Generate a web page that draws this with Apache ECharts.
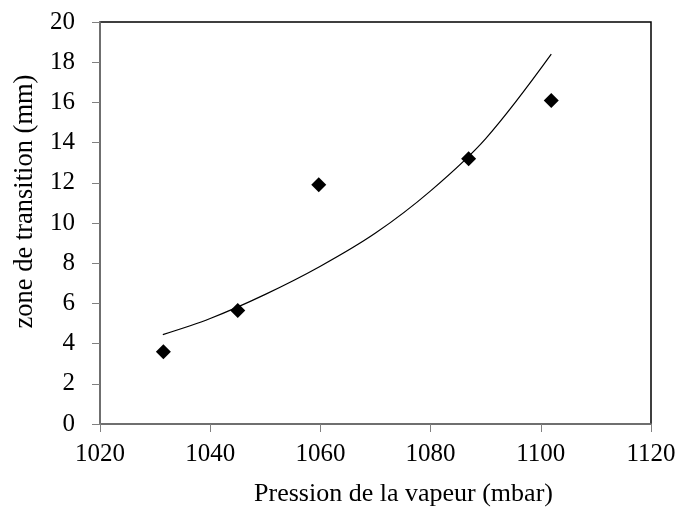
<!DOCTYPE html>
<html>
<head>
<meta charset="utf-8">
<script src="https://cdn.jsdelivr.net/npm/echarts@6/dist/echarts.min.js"></script>
<style>
  html, body { margin: 0; padding: 0; background: #fff; }
  #chartDiv { width: 681px; height: 513px; }
</style>
</head>
<body>
<div id="chartDiv"></div>
<script>
// mesures (points)
var pression = [1031.5, 1045.0, 1059.7, 1086.9, 1101.9];
var zone = [3.6, 5.65, 11.9, 13.2, 16.1];

// courbe de tendance
var trendX = [1031.4, 1040, 1050, 1060, 1070, 1080, 1090, 1101.9];
var trendY = [4.45, 5.25, 6.45, 7.85, 9.5, 11.6, 14.2, 18.4];

var xTicks = [1020, 1040, 1060, 1080, 1100, 1120];
var yTicks = [0, 2, 4, 6, 8, 10, 12, 14, 16, 18, 20];

var points = pression.map(function (x, i) { return [x, zone[i]]; });
var trend = trendX.map(function (x, i) { return [x, trendY[i]]; });

var font = 'Liberation Serif';
var axisGray = '#808080';

var myChart = echarts.init(document.getElementById('chartDiv'));
var option = {
    backgroundColor: '#fff',
    animation: false,
    grid: {
        left: 100, right: 30, top: 22, bottom: 89,
        show: true, borderColor: '#000', borderWidth: 1.5
    },
    xAxis: {
        type: 'value',
        min: xTicks[0], max: xTicks[xTicks.length - 1], interval: 20,
        name: 'Pression de la vapeur (mbar)',
        nameLocation: 'middle', nameGap: 57,
        nameTextStyle: { fontFamily: font, fontSize: 26, color: '#000', padding: [0, 0, 0, 56] },
        axisLine: { show: true, lineStyle: { color: axisGray, width: 1.5 } },
        axisTick: { show: true, length: 8, lineStyle: { color: axisGray } },
        axisLabel: { fontFamily: font, fontSize: 25, color: '#000', margin: 18,
            formatter: function (v) { return String(v); } },
        splitLine: { show: false }
    },
    yAxis: {
        type: 'value',
        min: yTicks[0], max: yTicks[yTicks.length - 1], interval: 2,
        name: 'zone de transition (mm)',
        nameLocation: 'middle', nameGap: 61, nameRotate: 90,
        nameTextStyle: { fontFamily: font, fontSize: 26.5, color: '#000', padding: [0, 0, 0, 43] },
        axisLine: { show: true, lineStyle: { color: axisGray, width: 1.5 } },
        axisTick: { show: true, length: 8, lineStyle: { color: axisGray } },
        axisLabel: { fontFamily: font, fontSize: 25, color: '#000', margin: 25 },
        splitLine: { show: false }
    },
    series: [
        {
            name: 'tendance',
            type: 'line',
            data: trend,
            smooth: 0.35,
            showSymbol: false,
            lineStyle: { color: '#000', width: 1.2 },
            z: 2
        },
        {
            name: 'mesures',
            type: 'scatter',
            data: points,
            symbol: 'diamond',
            symbolSize: 15,
            itemStyle: { color: '#000', opacity: 1 },
            z: 3
        }
    ]
};
myChart.setOption(option);
</script>
</body>
</html>
